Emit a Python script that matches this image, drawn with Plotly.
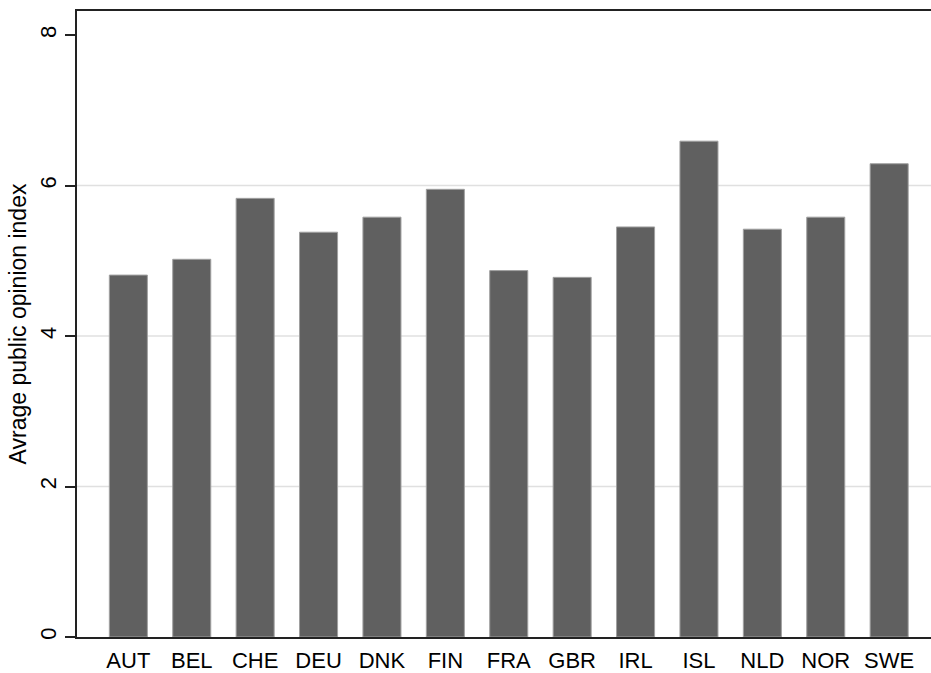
import plotly.graph_objects as go

countries = ["AUT", "BEL", "CHE", "DEU", "DNK", "FIN", "FRA", "GBR", "IRL", "ISL", "NLD", "NOR", "SWE"]
opinion_index = [4.81, 5.02, 5.83, 5.38, 5.58, 5.95, 4.87, 4.78, 5.45, 6.59, 5.42, 5.58, 6.29]
y_ticks = [0, 2, 4, 6, 8]
grid_levels = [2, 4, 6]

FONT = "Liberation Sans, Arial, Helvetica, sans-serif"

fig = go.Figure()
fig.add_trace(go.Bar(
    x=countries,
    y=opinion_index,
    width=0.6,
    marker=dict(color="#606060", line=dict(color="#a0a0a0", width=1)),
    showlegend=False,
))

for g in grid_levels:
    fig.add_shape(type="line", xref="paper", yref="y", x0=0, x1=1, y0=g, y1=g,
                  line=dict(color="#e0e0e0", width=1.5), layer="below")

fig.update_layout(
    width=931, height=673,
    margin=dict(l=77, r=0, t=11, b=36),
    paper_bgcolor="white", plot_bgcolor="white",
    font=dict(family=FONT, color="black"),
    bargap=0.4,
    xaxis=dict(
        type="category",
        range=[-0.81, 12.66],
        showline=True, linecolor="#222", linewidth=1.5, mirror=True,
        ticks="", showgrid=False,
        tickfont=dict(size=22, family=FONT, color="black"),
        ticklabelstandoff=3,
    ),
    yaxis=dict(
        range=[0, 8.32],
        tickvals=y_ticks,
        ticktext=[str(v) for v in y_ticks],
        showline=True, linecolor="#222", linewidth=1.5, mirror=False,
        ticks="outside", ticklen=10, tickwidth=1.5, tickcolor="#222",
        showgrid=False, zeroline=False,
        tickangle=-90,
        tickfont=dict(size=22, family=FONT, color="black"),
        title=dict(text="Avrage public opinion index", font=dict(size=23, family=FONT, color="black"), standoff=3),
    ),
)

fig.write_html(
    "out.html",
    config={"displayModeBar": False},
    post_script="document.body.style.margin='0';document.body.style.overflow='hidden';",
)
